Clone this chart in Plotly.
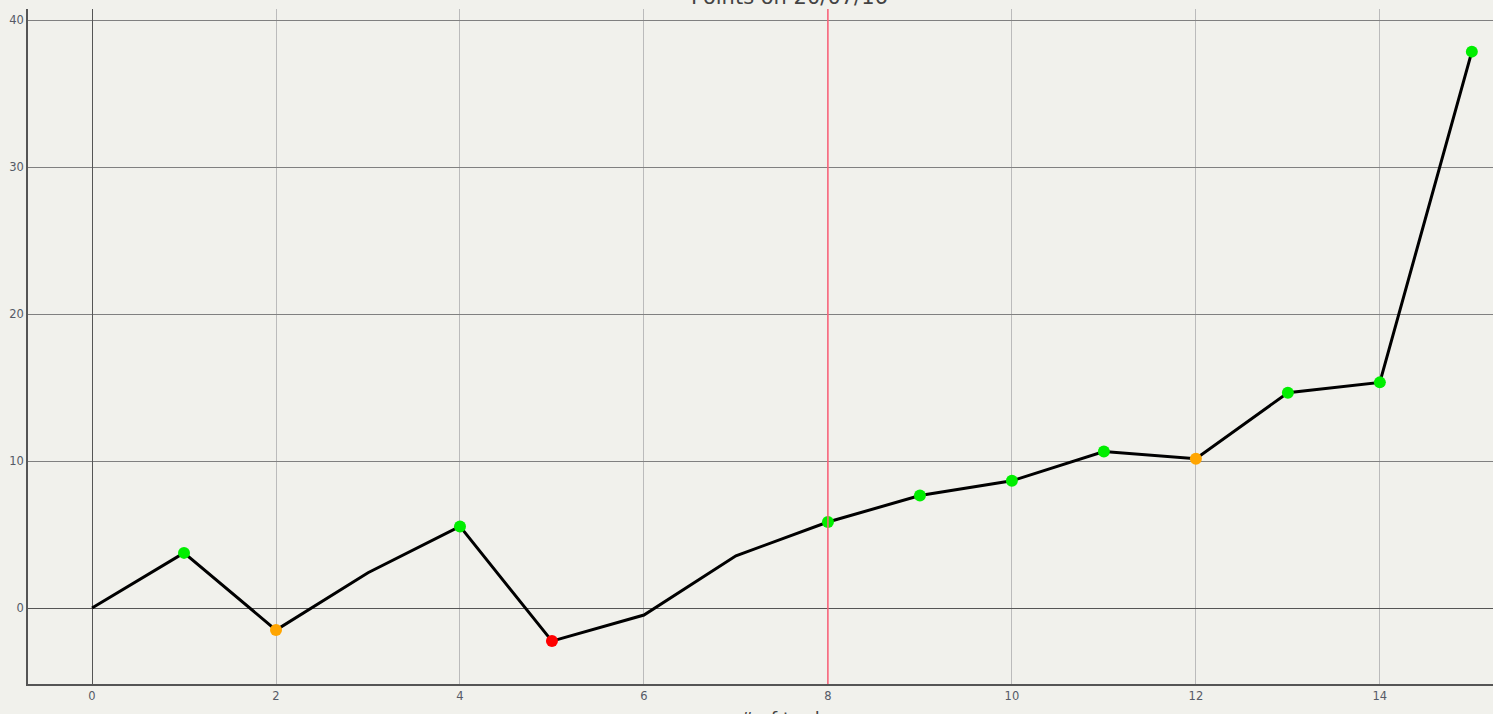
import plotly.graph_objects as go

trades = list(range(16))
points = [0, 3.75, -1.5, 2.4, 5.55, -2.25, -0.48, 3.55, 5.85, 7.65, 8.65, 10.65, 10.15, 14.65, 15.35, 37.85]
marker_colors = [None, "#00ee00", "#ffa500", None, "#00ee00", "#ff0000", None, None,
                 "#00ee00", "#00ee00", "#00ee00", "#00ee00", "#ffa500", "#00ee00", "#00ee00", "#00ee00"]
marked_x = [x for x, c in zip(trades, marker_colors) if c]
marked_y = [y for y, c in zip(points, marker_colors) if c]
marked_c = [c for c in marker_colors if c]
ref_trade = 8
chart_title = "Points on 20/07/16"
x_title = "# of trades"

fig = go.Figure()
fig.add_trace(go.Scatter(x=trades, y=points, mode="lines",
                         line=dict(color="black", width=3), hoverinfo="skip", showlegend=False))
fig.add_trace(go.Scatter(x=marked_x, y=marked_y, mode="markers",
                         marker=dict(color=marked_c, size=12, line=dict(width=0)), showlegend=False))
fig.add_shape(type="line", x0=ref_trade, x1=ref_trade, y0=0, y1=1, xref="x", yref="paper",
              line=dict(color="#ff6078", width=1.5))
fig.add_annotation(text=chart_title, x=0.52, xref="paper", xanchor="center",
                   y=1.018, yref="paper", yanchor="middle", showarrow=False,
                   font=dict(family="DejaVu Sans", size=21, color="#444"))
fig.add_annotation(text=x_title, x=0.52, xref="paper", xanchor="center",
                   y=0, yref="paper", yanchor="top", yshift=-22, showarrow=False,
                   font=dict(family="DejaVu Sans", size=18, color="#444"))

fig.update_layout(
    width=1493, height=714,
    margin=dict(l=28, r=0, t=9, b=30),
    paper_bgcolor="#f1f1ec", plot_bgcolor="#f1f1ec",
    font=dict(family="DejaVu Sans", color="#555a66", size=11),
    xaxis=dict(range=[-0.696, 15.23], tickmode="array", tickvals=list(range(0, 16, 2)),
               automargin=False,
               showgrid=True, gridcolor="#bbbbbb", gridwidth=1,
               zeroline=True, zerolinecolor="#555", zerolinewidth=1,
               showline=True, linecolor="#555", linewidth=1.5,
               ticks="", tickfont=dict(size=11.5)),
    yaxis=dict(range=[-5.17, 40.75], tickmode="array", tickvals=[0, 10, 20, 30, 40],
               automargin=False,
               showgrid=True, gridcolor="#808080", gridwidth=1,
               zeroline=True, zerolinecolor="#555", zerolinewidth=1,
               showline=True, linecolor="#555", linewidth=1.5,
               ticks="", tickfont=dict(size=11.5)),
)
fig.write_html("out.html", config={"displayModeBar": False},
               post_script="document.body.style.margin='0';document.body.style.overflow='hidden';")
